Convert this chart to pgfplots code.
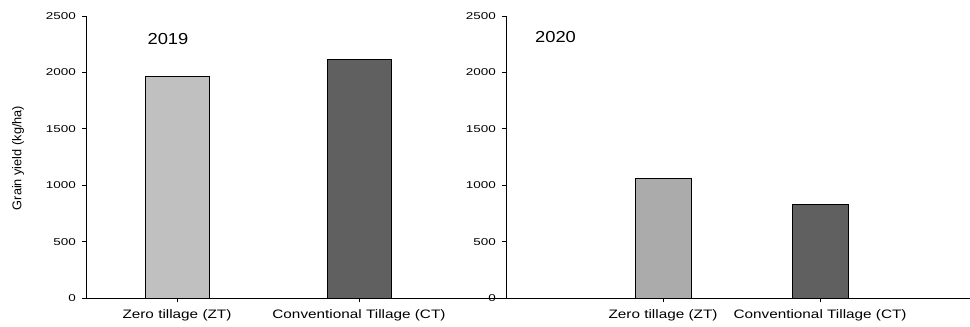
\documentclass[border=0pt]{standalone}
\usepackage{fontspec}
\setmainfont{Liberation Sans}
\newfontfamily\tickfont[FakeStretch=1.35]{Liberation Sans}
\newfontfamily\xfont[FakeStretch=1.25]{Liberation Sans}
\newfontfamily\yearfont[FakeStretch=1.15]{Liberation Sans}
\usepackage{pgfplots}
\pgfplotsset{compat=1.18}
\definecolor{ztleft}{HTML}{C0C0C0}
\definecolor{ztright}{HTML}{ABABAB}
\definecolor{ctbar}{HTML}{606060}
\pgfplotsset{
  myax/.style={
    scale only axis, height=282bp,
    anchor=south west,
    ymin=0, ymax=2500, ytick={0,500,1000,1500,2000,2500},
    axis x line*=bottom, axis y line*=left,
    axis line style={-, black, line width=0.9bp},
    tick align=outside, major tick length=4bp,
    tick style={black, line width=0.8bp},
    xtick={1,2},
    xticklabels={Zero tillage (ZT), Conventional Tillage (CT)},
    scaled y ticks=false,
    /pgf/number format/.cd, 1000 sep={}, assume math mode=true,
    /pgfplots/.cd,
    yticklabel style={font=\tickfont\fontsize{10}{10}\selectfont, inner sep=0pt, xshift=-6bp},
    xticklabel style={font=\xfont\fontsize{12.3}{12.3}\selectfont, inner sep=0pt, yshift=-7bp},
    ybar,
    every axis plot/.append style={draw=black, line width=0.9bp, bar shift=0pt},
  }
}
\begin{document}
\begin{tikzpicture}[x=1bp,y=1bp]
\useasboundingbox (0,0) rectangle (970,326);
% 2019
\begin{axis}[myax, at={(86bp,28bp)}, width=420bp, xmin=0.5, xmax=2.808, bar width=64bp]
  \addplot[fill=ztleft] coordinates {(1,1960)};
  \addplot[fill=ctbar] coordinates {(2,2115)};
\end{axis}
% 2020
\begin{axis}[myax, at={(506bp,28bp)}, width=464bp, xmin=0, xmax=2.955, bar width=56bp]
  \addplot[fill=ztright] coordinates {(1,1060)};
  \addplot[fill=ctbar] coordinates {(2,826)};
\end{axis}
\node[font=\yearfont\fontsize{16}{16}\selectfont, inner sep=0pt] at (168,286.5) {2019};
\node[font=\yearfont\fontsize{16}{16}\selectfont, inner sep=0pt] at (555.5,288.5) {2020};
\node[font=\fontsize{12.8}{12.8}\selectfont, rotate=90, inner sep=0pt] at (18,168) {Grain yield (kg/ha)};
\end{tikzpicture}
\end{document}
